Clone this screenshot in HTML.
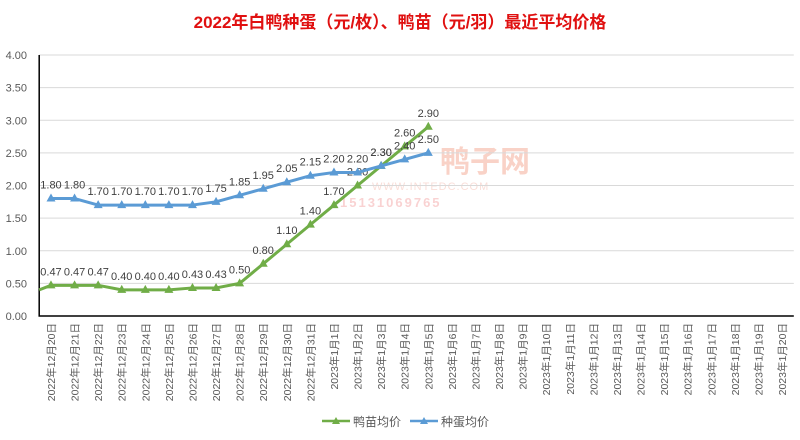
<!DOCTYPE html>
<html><head><meta charset="utf-8"><style>
body{margin:0;background:#fff;}
svg{display:block;font-family:"Liberation Sans","Noto Sans CJK SC",sans-serif;}
</style></head><body>
<svg id="c" width="800" height="440">
<text x="400" y="28" text-anchor="middle" font-size="17" font-weight="bold" fill="#e01010">2022年白鸭种蛋（元/枚）、鸭苗（元/羽）最近平均价格</text>
<g opacity="0.35">
<text x="440" y="172" font-size="30" fill="#f08060" font-weight="bold">鸭子网</text>
<text x="372" y="190" font-size="11" fill="#f0a090" letter-spacing="1">WWW.INTEDC.COM</text>
<text x="340" y="207" font-size="13" fill="#f08080" font-weight="bold" letter-spacing="2">15131069765</text>
</g>
<g id="grid"></g><g id="series"></g><g id="xl"></g>
<g>
<g><line x1="322" y1="421" x2="350" y2="421" stroke="#70ad47" stroke-width="2.5"/><path d="M336,417 l4,7 h-8z" fill="#70ad47"/><text x="353" y="426" font-size="12" fill="#595959">鸭苗均价</text></g>
<g><line x1="410" y1="421" x2="438" y2="421" stroke="#5b9bd5" stroke-width="2.5"/><path d="M424,417 l4,7 h-8z" fill="#5b9bd5"/><text x="441" y="426" font-size="12" fill="#595959">种蛋均价</text></g>
</g>
</svg>
<script>
const categories=["2022年12月20日","2022年12月21日","2022年12月22日","2022年12月23日","2022年12月24日","2022年12月25日","2022年12月26日","2022年12月27日","2022年12月28日","2022年12月29日","2022年12月30日","2022年12月31日","2023年1月1日","2023年1月2日","2023年1月3日","2023年1月4日","2023年1月5日","2023年1月6日","2023年1月7日","2023年1月8日","2023年1月9日","2023年1月10日","2023年1月11日","2023年1月12日","2023年1月13日","2023年1月14日","2023年1月15日","2023年1月16日","2023年1月17日","2023年1月18日","2023年1月19日","2023年1月20日"];
const duckling=[0.47,0.47,0.47,0.40,0.40,0.40,0.43,0.43,0.50,0.80,1.10,1.40,1.70,2.00,2.30,2.60,2.90];
const ducklingPrev=0.40;
const eggs=[1.80,1.80,1.70,1.70,1.70,1.70,1.70,1.75,1.85,1.95,2.05,2.15,2.20,2.20,2.30,2.40,2.50];
const yTicks=[0,0.5,1,1.5,2,2.5,3,3.5,4];
const NS="http://www.w3.org/2000/svg";
const L=39.2,R=793.8,T=55,B=316,yMax=4;
const bw=(R-L)/categories.length;
const x=i=>L+bw*(i+0.5);
const y=v=>B-(v/yMax)*(B-T);
function mk(tag,at,parent){const e=document.createElementNS(NS,tag);for(const k in at)e.setAttribute(k,at[k]);parent.appendChild(e);return e;}
const grid=document.getElementById('grid'),ser=document.getElementById('series'),xl=document.getElementById('xl');
yTicks.forEach(t=>{
  const g=mk('line',{x1:L,x2:R,y1:y(t),y2:y(t),stroke:'#d9d9d9','stroke-width':1},grid);
  
  
  const tx=mk('text',{x:27,y:y(t)+4,'text-anchor':'end','font-size':11,fill:'#595959'},grid);
  tx.textContent=t.toFixed(2);
  
  
});
const ax=mk('path',{d:`M${L},${T} V${B} H${R}`,fill:'none',stroke:'#000','stroke-width':1.5},grid);


categories.forEach((c,i)=>{
  const t=mk('text',{transform:`translate(${x(i)+4},323) rotate(-90)`,'text-anchor':'end','font-size':10.5,fill:'#595959'},xl);
  t.textContent=c;
  
  
});
function series(vals,color,name,prev){
  const g=mk('g',{},ser);
  
  
  let pts=vals.map((v,i)=>x(i)+','+y(v));
  if(prev!==undefined)pts.unshift(L+','+y(prev));
  mk('polyline',{points:pts.join(' '),fill:'none',stroke:color,'stroke-width':3,'stroke-linejoin':'round'},g);
  vals.forEach((v,i)=>{
    const p=mk('path',{d:`M${x(i)},${y(v)-5} l4.5,8 h-9z`,fill:color},g);
    
    
    const t=mk('text',{x:x(i),y:y(v)-10,'text-anchor':'middle','font-size':11,fill:'#404040'},g);
    t.textContent=v.toFixed(2);
    
    
  });
}
series(duckling,'#70ad47','duckling-price-series',ducklingPrev);
series(eggs,'#5b9bd5','egg-price-series');
</script>
</body></html>
